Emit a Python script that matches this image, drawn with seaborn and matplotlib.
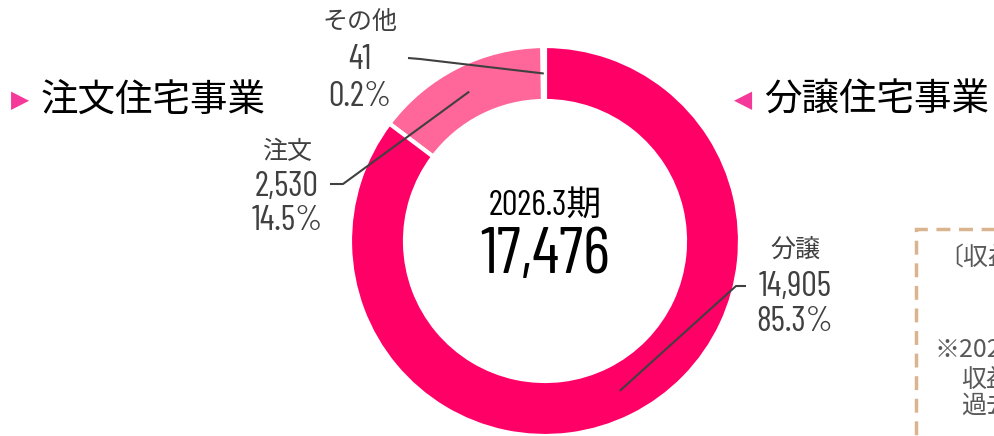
import numpy as np
import seaborn as sns
import matplotlib.pyplot as plt
from matplotlib import font_manager
from matplotlib.patches import Rectangle

# データ
segments = ["その他", "注文", "分譲"]
amounts = [41, 2530, 14905]
period_label = "2026.3期"
left_title = "注文住宅事業"
right_title = "分譲住宅事業"
note_lines = ["〔収益認識基準〕", "※2026.3期より", "収益認識", "過去実績"]

seg_colors = ["#FFFFFF", "#FF6699", "#FF0066"]
gray = "#404040"
pink_mark = "#F5399A"

sns.set_theme(style="white")
cjk = "Noto Sans CJK JP"
plt.rcParams["font.family"] = [cjk, "DejaVu Sans"]

# 数字用の細いフォント
names = {f.name for f in font_manager.fontManager.ttflist}
num_font = next((n for n in ["Barlow Condensed", "Roboto Condensed", "Archivo Narrow"]
                 if n in names), "DejaVu Sans")
num_family = [num_font, cjk]

W, H = 994, 436
fig = plt.figure(figsize=(W / 100, H / 100), dpi=100)
ax = fig.add_axes([0, 0, 1, 1])

def Y(y):
    return H - y

cx, cy, R, ring_w = 545, Y(241), 195, 55
wedges, _ = ax.pie(amounts, colors=seg_colors, startangle=90, counterclock=True,
                   radius=R, center=(cx, cy),
                   wedgeprops=dict(width=ring_w, edgecolor="white", linewidth=3))
ax.set_xlim(0, W)
ax.set_ylim(0, H)
ax.set_aspect("equal", adjustable="box")
ax.axis("off")

total = sum(amounts)

# ラベル配置 (中心x, 各行のy), 引き出し線の折れ点と端点
label_pos = {"その他": (360, [22, 60, 97]),
             "注文": (287, [152, 187, 221]),
             "分譲": (795, [250, 287, 322])}
leader = {"その他": [(420, 59), (408, 58)],
          "注文": [(343, 184), (330, 184)],
          "分譲": [(736, 286), (746, 286)]}

for w, name, amt in zip(wedges, segments, amounts):
    th = np.deg2rad((w.theta1 + w.theta2) / 2)
    r_mid = R - ring_w / 2
    px, py = cx + r_mid * np.cos(th), cy + r_mid * np.sin(th)
    xs = [px] + [p[0] for p in leader[name]]
    ys = [py] + [Y(p[1]) for p in leader[name]]
    ax.plot(xs, ys, color=gray, lw=1.5, solid_capstyle="butt")
    lx, lys = label_pos[name]
    ax.text(lx, Y(lys[0]), name, ha="center", va="center", fontsize=18, color=gray)
    ax.text(lx, Y(lys[1]), f"{amt:,}", ha="center", va="center", fontsize=25,
            color=gray, family=num_family)
    ax.text(lx, Y(lys[2]), f"{amt / total * 100:.1f}%", ha="center", va="center",
            fontsize=25, color=gray, family=num_family)

# 中央の合計
ax.text(cx, Y(207), period_label, ha="center", va="center", fontsize=25,
        color="black", family=num_family)
ax.text(cx, Y(256), f"{total:,}", ha="center", va="center", fontsize=47,
        color="black", family=num_family)

# 見出し
ax.text(11, Y(100), "▶", ha="left", va="center", fontsize=17, color=pink_mark,
        family="DejaVu Sans")
ax.text(41, Y(100), left_title, ha="left", va="center", fontsize=27, color="black")
ax.text(734, Y(100), "◀", ha="left", va="center", fontsize=17, color=pink_mark,
        family="DejaVu Sans")
ax.text(764, Y(100), right_title, ha="left", va="center", fontsize=27, color="black")

# 右側の注記ボックス
ax.add_patch(Rectangle((916, Y(500)), 300, 500 - 229, fill=False, edgecolor="#D9B48E",
                       lw=2.5, linestyle=(0, (4, 2.5)), clip_on=False))
ax.text(938, Y(258), note_lines[0], ha="left", va="center", fontsize=18, color="#595959")
ax.text(934, Y(350), note_lines[1], ha="left", va="center", fontsize=18, color="#595959")
ax.text(961, Y(380), note_lines[2], ha="left", va="center", fontsize=18, color="#595959")
ax.text(961, Y(406), note_lines[3], ha="left", va="center", fontsize=18, color="#595959")

fig.savefig("out.png", dpi=100)
